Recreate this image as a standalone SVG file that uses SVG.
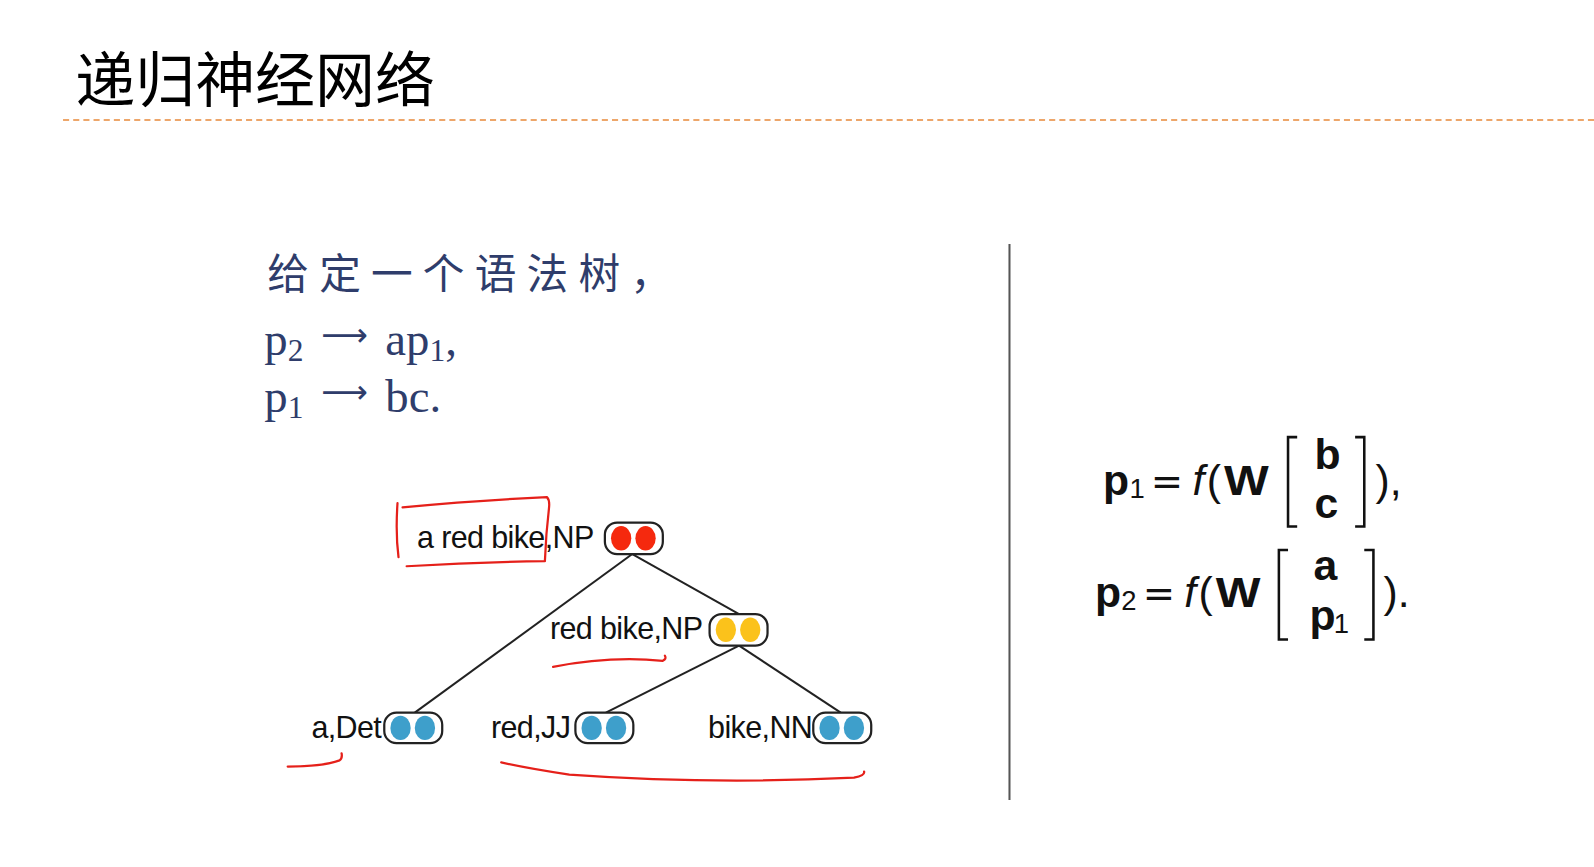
<svg xmlns="http://www.w3.org/2000/svg" width="1594" height="867" viewBox="0 0 1594 867">
<style>
.title{font-family:"Noto Sans CJK SC","Noto Sans",sans-serif;font-size:59px;fill:#000}
.cn{font-family:"Noto Sans CJK SC",sans-serif;font-size:41px;fill:#2F3D6B;letter-spacing:10px}
.rule{font-family:"Liberation Serif","Times New Roman",serif;font-size:46px;fill:#2F3D6B}
.arr{font-family:"DejaVu Sans",sans-serif;font-size:32px;fill:#2F3D6B}
.lbl{font-family:"Liberation Sans",Arial,sans-serif;font-size:30px;fill:#111;letter-spacing:-0.6px;text-anchor:end}
.pill{fill:#fff;stroke:#222;stroke-width:2.2}
.edge{stroke:#222;stroke-width:2;fill:none}
.ink{stroke:#E5201A;stroke-width:2.2;fill:none;stroke-linecap:round;stroke-linejoin:round}
.fm{font-family:"Liberation Sans",Arial,sans-serif;font-size:42px;fill:#111}
.eq{font-family:"DejaVu Sans",sans-serif;font-size:38px;fill:#111}
.sub{font-family:"Liberation Sans",Arial,sans-serif;font-size:27px;fill:#111}
.b{font-weight:bold}
.br{stroke:#111;stroke-width:2.5;fill:none}
</style>
<rect width="1594" height="867" fill="#fff"/>
<g transform="scale(1.0166)">
<g id="title">
<text class="title" x="74" y="100">递归神经网络</text>
<line x1="62" y1="118" x2="1570" y2="118" stroke="#E8893A" stroke-width="1.6" stroke-dasharray="6,4"/>
</g>
<g id="divider"><line x1="993" y1="240" x2="993" y2="787" stroke="#555" stroke-width="2"/></g>
<g id="intro">
<text class="cn" x="263" y="284">给定一个语法树，</text>
<text class="rule" x="260" y="349">p<tspan font-size="31" dy="6">2</tspan></text>
<text class="arr" x="316" y="340">⟶</text>
<text class="rule" x="379" y="349">ap<tspan font-size="31" dy="6">1</tspan><tspan dy="-6">,</tspan></text>
<text class="rule" x="260" y="405">p<tspan font-size="31" dy="6">1</tspan></text>
<text class="arr" x="316" y="396">⟶</text>
<text class="rule" x="379" y="405">bc.</text>
</g>
<g id="connectors">
<line class="edge" x1="622" y1="545" x2="408" y2="701"/>
<line class="edge" x1="622" y1="545" x2="727" y2="604"/>
<line class="edge" x1="727" y1="635" x2="596" y2="701"/>
<line class="edge" x1="727" y1="635" x2="827" y2="701"/>
</g>
<g id="node-p2">
<text class="lbl" x="584" y="539">a red bike,NP</text>
<rect class="pill" x="595" y="514" width="57" height="31" rx="12"/>
<ellipse cx="611" cy="529.5" rx="10" ry="12" fill="#F5290E"/>
<ellipse cx="635" cy="529.5" rx="10" ry="12" fill="#F5290E"/>
</g>
<g id="node-p1">
<text class="lbl" x="691" y="629">red bike,NP</text>
<rect class="pill" x="698" y="604" width="57" height="31" rx="12"/>
<ellipse cx="714" cy="619.5" rx="10" ry="12" fill="#FBC21B"/>
<ellipse cx="738" cy="619.5" rx="10" ry="12" fill="#FBC21B"/>
</g>
<g id="node-a">
<text class="lbl" x="375" y="726">a,Det</text>
<rect class="pill" x="378" y="701" width="57" height="30" rx="12"/>
<ellipse cx="394" cy="716" rx="10" ry="12" fill="#3E9FCB"/>
<ellipse cx="418" cy="716" rx="10" ry="12" fill="#3E9FCB"/>
</g>
<g id="node-red">
<text class="lbl" x="561" y="726">red,JJ</text>
<rect class="pill" x="566" y="701" width="57" height="30" rx="12"/>
<ellipse cx="582" cy="716" rx="10" ry="12" fill="#3E9FCB"/>
<ellipse cx="606" cy="716" rx="10" ry="12" fill="#3E9FCB"/>
</g>
<g id="node-bike">
<text class="lbl" x="799" y="726">bike,NN</text>
<rect class="pill" x="800" y="701" width="57" height="30" rx="12"/>
<ellipse cx="816" cy="716" rx="10" ry="12" fill="#3E9FCB"/>
<ellipse cx="840" cy="716" rx="10" ry="12" fill="#3E9FCB"/>
</g>
<g id="annotations">
<path class="ink" d="M391,495 Q389,525 392,548"/>
<path class="ink" d="M396,499 Q470,492 538,489 Q541,492 540,500 Q537,525 536,552 Q470,553 400,557"/>
<path class="ink" d="M544,656 Q600,645 652,650 Q656,648 654,645"/>
<path class="ink" d="M283,754 Q318,754 334,748 Q337,746 336,741"/>
<path class="ink" d="M493,750 Q520,756 560,762 Q700,772 840,765 Q851,763 850,759"/>
</g>
<g id="formulas">
<text class="fm b" x="1085" y="487">p</text>
<text class="sub" x="1111" y="490">1</text>
<text class="eq" x="1132" y="487">=</text>
<text class="fm" x="1173" y="487" font-style="italic">f</text>
<text class="fm" x="1187" y="487">(</text>
<text class="fm b" x="1204" y="487" font-size="40" textLength="44" lengthAdjust="spacingAndGlyphs">W</text>
<path class="br" d="M1276,430 H1267 V518 H1276"/>
<text class="fm b" x="1293" y="461">b</text>
<text class="fm b" x="1293" y="510">c</text>
<path class="br" d="M1333,430 H1342 V518 H1333"/>
<text class="fm" x="1353" y="487">),</text>
<text class="fm b" x="1077" y="597">p</text>
<text class="sub" x="1103" y="600">2</text>
<text class="eq" x="1124" y="597">=</text>
<text class="fm" x="1165" y="597" font-style="italic">f</text>
<text class="fm" x="1179" y="597">(</text>
<text class="fm b" x="1196" y="597" font-size="40" textLength="44" lengthAdjust="spacingAndGlyphs">W</text>
<path class="br" d="M1267,541 H1258 V629 H1267"/>
<text class="fm b" x="1292" y="571">a</text>
<text class="fm b" x="1288" y="620">p</text>
<text class="sub" x="1312" y="623" font-size="25">1</text>
<path class="br" d="M1342,541 H1351 V629 H1342"/>
<text class="fm" x="1361" y="597">).</text>
</g>
</g>
</svg>
